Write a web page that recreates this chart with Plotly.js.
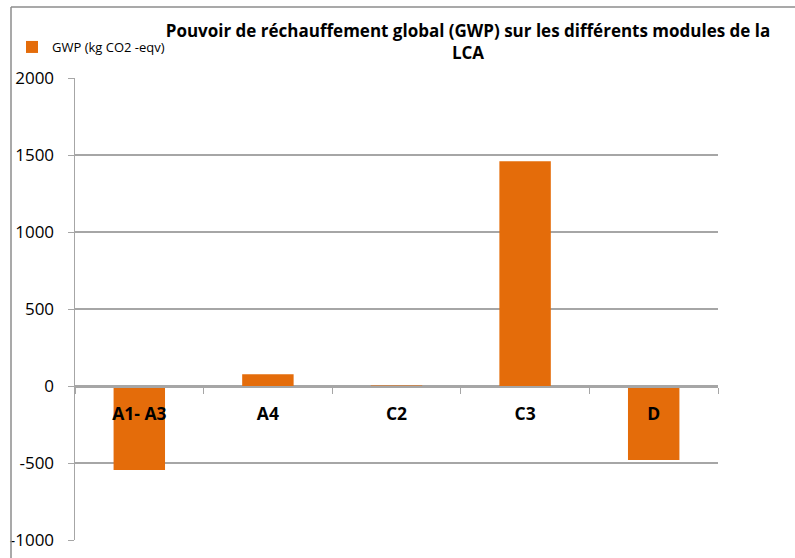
<!DOCTYPE html>
<html>
<head>
<meta charset="utf-8">
<script src="https://cdn.plot.ly/plotly-3.0.1.min.js"></script>
<style>
html,body{margin:0;padding:0;background:#fff;overflow:hidden;}
#chart{width:795px;height:558px;}
</style>
</head>
<body>
<div id="chart"></div>
<script>
const categories = ["A1- A3", "A4", "C2", "C3", "D"];
const gwpValues = [-545, 76, 3, 1459, -481];
const seriesName = "GWP (kg CO2 -eqv)";
const yTicks = [-1000, -500, 0, 500, 1000, 1500, 2000];
const titleText = "Pouvoir de réchauffement global (GWP) sur les différents modules de la<br>LCA";

const W = 795, H = 558;
const ML = 11, MT = 7;
const PW = W - ML, PH = H - MT;
const fx = x => (x - ML) / PW;
const fy = y => (H - y) / PH;

const plotLeft = 75, plotRight = 718, plotTop = 78, plotBottom = 540, zeroPix = 386;

const trace = {
  type: "bar",
  x: categories,
  y: gwpValues,
  name: seriesName,
  marker: {color: "#E46C0A"},
  showlegend: true
};

const layout = {
  width: W, height: H,
  margin: {l: ML, r: 0, t: MT, b: 0, pad: 0, autoexpand: false},
  paper_bgcolor: "#ffffff",
  plot_bgcolor: "rgba(0,0,0,0)",
  font: {family: "Open Sans, Liberation Sans, sans-serif", color: "#000"},
  bargap: 0.6,
  title: {
    text: titleText,
    font: {size: 17, family: "Open Sans, sans-serif", weight: 700, color: "#000"},
    xref: "paper", x: fx(468), xanchor: "center",
    yref: "container", y: 1 - 37 / H, yanchor: "middle"
  },
  showlegend: true,
  legend: {
    x: fx(12), xanchor: "left",
    y: fy(32), yanchor: "top",
    font: {size: 13, family: "Open Sans, sans-serif", color: "#000"},
    bgcolor: "rgba(0,0,0,0)",
    itemwidth: 30
  },
  xaxis: {
    type: "category",
    domain: [fx(plotLeft), fx(plotRight)],
    anchor: "free",
    position: fy(zeroPix),
    automargin: false,
    showline: true, linecolor: "#a6a6a6", linewidth: 1.5,
    ticks: "outside", tickson: "boundaries", ticklen: 6, tickcolor: "#a6a6a6", tickwidth: 1,
    tickfont: {size: 17.5, family: "Open Sans, sans-serif", weight: 700, color: "#000"},
    ticklabelstandoff: 11,
    showgrid: false, zeroline: false, fixedrange: true
  },
  yaxis: {
    domain: [fy(plotBottom), fy(plotTop)],
    anchor: "x",
    range: [-1000, 2000],
    tickvals: yTicks,
    ticktext: yTicks.map(String),
    automargin: false,
    showline: true, linecolor: "#a6a6a6", linewidth: 1.5,
    ticks: "outside", ticklen: 6, tickcolor: "#a6a6a6",
    tickfont: {size: 17, family: "Open Sans, sans-serif", color: "#000"},
    ticklabelstandoff: 10,
    showgrid: true, gridcolor: "#a6a6a6", gridwidth: 1.2,
    zeroline: false, fixedrange: true
  },
  shapes: [
    {type: "line", xref: "paper", yref: "paper", x0: 0, x1: 0, y0: 0, y1: 1,
     line: {color: "#8c8c8c", width: 1.5}, layer: "above"},
    {type: "line", xref: "paper", yref: "paper", x0: 0, x1: 1, y0: 1, y1: 1,
     line: {color: "#8c8c8c", width: 1.5}, layer: "above"}
  ]
};

Plotly.newPlot("chart", [trace], layout, {displayModeBar: false, staticPlot: true});
</script>
</body>
</html>
